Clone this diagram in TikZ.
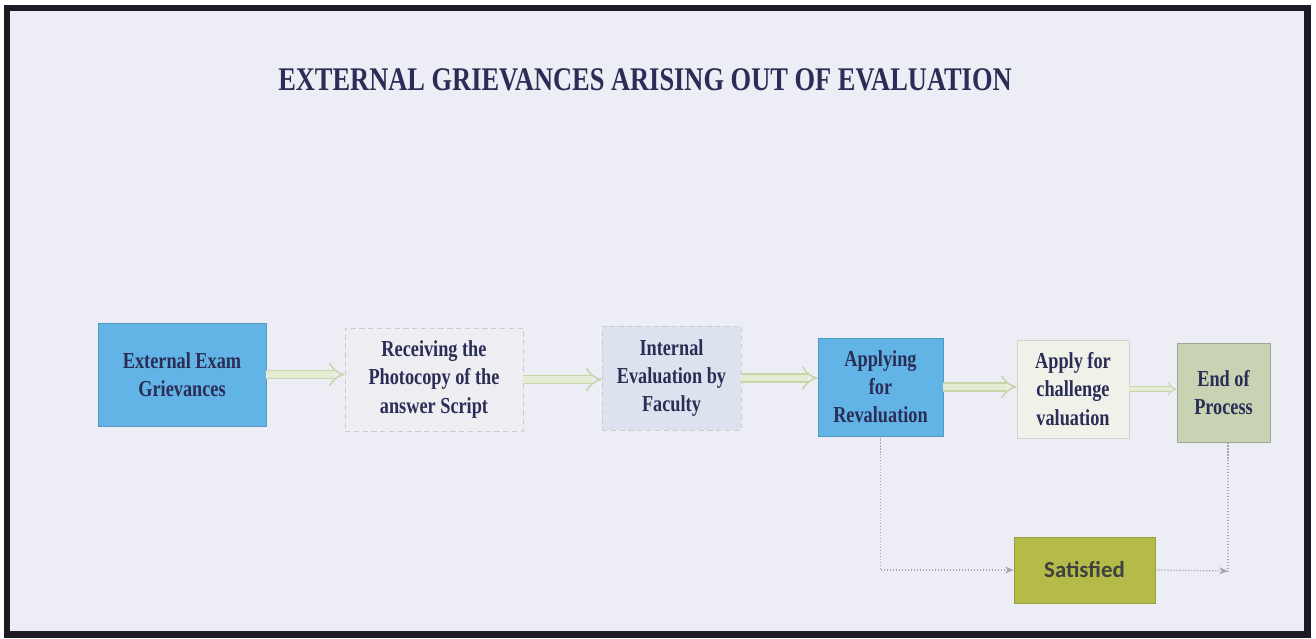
\documentclass[tikz,border=0pt]{standalone}
\usepackage{fontspec}
\setmainfont{Liberation Serif}[FakeStretch=0.8]
\newfontfamily\satfont{Carlito}
\usetikzlibrary{arrows.meta}

\definecolor{paper}{HTML}{EDEDF5}
\definecolor{framedark}{HTML}{1E1A24}
\definecolor{inktext}{HTML}{2A2D55}
\definecolor{skyblue}{HTML}{62B4E6}
\definecolor{lightgrey}{HTML}{EEEEF2}
\definecolor{paleblue}{HTML}{DDE3EE}
\definecolor{palegreen}{HTML}{F0F2EA}
\definecolor{sagegreen}{HTML}{C8D3B4}
\definecolor{olive}{HTML}{B4BB48}
\definecolor{flowgreen}{HTML}{C9D5A8}
\definecolor{flowfill}{HTML}{E6ECD4}
\definecolor{linkgrey}{HTML}{A6A6B0}

\begin{document}
\begin{tikzpicture}[x=0.02cm, y=-0.02cm,
    box/.style = {draw, rectangle, align=center, text=inktext, inner sep=2pt,
                  font=\fontsize{13}{16}\selectfont\bfseries},
    flow/.style = {draw=flowgreen, double=flowfill, double distance=3.8pt,
                   line width=0.9pt, -{Implies}},
    link/.style = {draw=linkgrey, densely dotted, line width=0.7pt,
                   -{Stealth[length=5pt,width=4pt]}}]
    % page and frame
    \fill[white] (0,0) rectangle (1316,639);
    \draw[fill=paper, draw=framedark, line width=0.14cm] (7,8) rectangle (1307,634);

    \node[text=inktext, font=\fontsize{18.8}{21}\selectfont\bfseries] (title) at (645,80)
        {EXTERNAL GRIEVANCES ARISING OUT OF EVALUATION};

    % main flow
    \node[box, fill=skyblue, draw=skyblue!85!black, minimum width=3.36cm, minimum height=2.06cm] (grv) at (182,374.5)
        {External Exam\\Grievances};
    \node[box, fill=lightgrey, draw=gray!40, densely dashed, minimum width=3.56cm, minimum height=2.06cm] (recv) at (434,379.5)
        {Receiving the\\Photocopy of the\\answer Script};
    \node[box, fill=paleblue, draw=gray!40, densely dashed, minimum width=2.78cm, minimum height=2.08cm] (intl) at (671.5,378)
        {Internal\\Evaluation by\\Faculty};
    \node[box, fill=skyblue, draw=skyblue!85!black, minimum width=2.5cm, minimum height=1.96cm] (appl) at (880.5,387)
        {Applying\\for\\Revaluation};
    \node[box, fill=palegreen, draw=gray!35, minimum width=2.24cm, minimum height=1.96cm] (chal) at (1073,389)
        {Apply for\\challenge\\valuation};
    \node[box, fill=sagegreen, draw=sagegreen!80!black, minimum width=1.86cm, minimum height=1.98cm] (endp) at (1223.5,392.5)
        {End of\\Process};
    \node[box, fill=olive, draw=olive!85!black, minimum width=2.82cm, minimum height=1.32cm,
          font=\fontsize{13}{16}\satfont\bfseries, text=black!75] (sat) at (1084.5,570)
        {Satisfied};

    \draw[flow] (grv.east) -- (grv.east -| recv.west);
    \draw[flow] (recv.east) -- (recv.east -| intl.west);
    \draw[flow] (intl.east) -- (intl.east -| appl.west);
    \draw[flow] (appl.east) -- (appl.east -| chal.west);
    \draw[flow, line width=0.6pt, double distance=2pt] (chal.east) -- (chal.east -| endp.west);

    % satisfied branch
    \coordinate (join) at (1228,571);
    \draw[link] (appl.south) |- (sat.west);
    \draw[link] (sat.east) -- (join);
    \draw[draw=linkgrey, densely dotted, line width=0.7pt] (endp.south -| join) -- (join);
\end{tikzpicture}
\end{document}
